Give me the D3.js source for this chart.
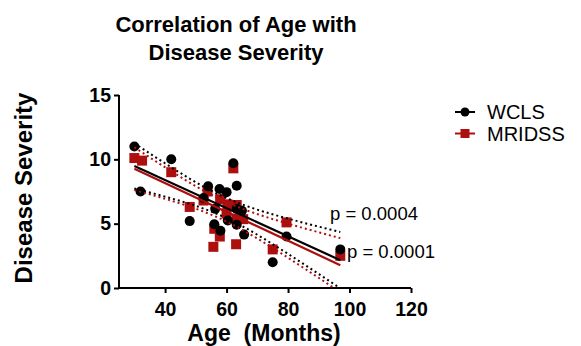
<!DOCTYPE html>
<html><head><meta charset="utf-8">
<script src="https://cdn.jsdelivr.net/npm/d3@7"></script>
<style>body{margin:0;background:#fff}svg{display:block}text{font-family:"Liberation Sans",Arial,sans-serif}</style>
</head><body><svg id="c" width="581" height="346"></svg>
<script>
// ---- data ----
const seriesNames = ["WCLS", "MRIDSS"];
const wclsAge = [30,32,42,48,52.5,54,56.3,56,57.7,58,60,60.4,62.2,63.3,63.3,63.3,65,65.7,79.5,75,97];
const wclsSev = [11,7.5,10,5.2,7,7.9,6.15,4.95,7.7,4.45,7.45,5.25,9.7,7.95,6.15,4.92,6,4.15,4,2,3];
const mridssAge = [30,32.5,42,48,52.5,53.8,57.9,60.3,63.3,60,63.3,65.4,56,57.8,55.7,63.1,62.2,79.5,75,97];
const mridssSev = [10.1,9.9,9,6.3,6.8,7.5,6.9,6.5,6.45,5.78,5.4,5.35,4.6,4.0,3.2,3.4,9.3,5.1,3,2.5];
const pLabels = ["p = 0.0004", "p = 0.0001"];
const xTicks = [40,60,80,100,120];
const yTicks = [0,5,10,15];
const tCrit = [2.093, 2.101]; // t(0.975, n-2)

const colors = ["#000000", "#ad0f0f"];
const svg = d3.select("#c");
const x = d3.scaleLinear().domain([25,120]).range([119,411]);
const y = d3.scaleLinear().domain([0,15]).range([288,95]);

svg.append("defs").append("clipPath").attr("id","clip")
  .append("rect").attr("x",119).attr("y",90).attr("width",300).attr("height",198);

function fit(xs, ys, t){
  const n = xs.length, mx = d3.mean(xs), my = d3.mean(ys);
  let sxx=0, sxy=0;
  xs.forEach((v,i)=>{sxx+=(v-mx)**2; sxy+=(v-mx)*(ys[i]-my);});
  const b = sxy/sxx, a = my - b*mx;
  let sse=0; xs.forEach((v,i)=>{sse+=(ys[i]-(a+b*v))**2;});
  const s = Math.sqrt(sse/(n-2));
  const lo = d3.min(xs), hi = d3.max(xs);
  const grid = d3.range(0,41).map(k=>lo+(hi-lo)*k/40);
  return {a,b,lo,hi,
    upper: grid.map(g=>[g, a+b*g + t*s*Math.sqrt(1/n+(g-mx)**2/sxx)]),
    lower: grid.map(g=>[g, a+b*g - t*s*Math.sqrt(1/n+(g-mx)**2/sxx)])};
}

// axes
const xAxis = svg.append("g").attr("transform","translate(0,288)")
  .call(d3.axisBottom(x).tickValues(xTicks).tickSize(5).tickPadding(9));
const yAxis = svg.append("g").attr("transform","translate(119,0)")
  .call(d3.axisLeft(y).tickValues(yTicks).tickSize(5).tickPadding(3));
[xAxis,yAxis].forEach(g=>{
  g.select(".domain").attr("stroke","#000").attr("stroke-width",2);
  g.selectAll(".tick line").attr("stroke","#000").attr("stroke-width",2);
  g.selectAll(".tick text").attr("fill","#000").style("font-size","19.5px").style("font-weight","bold")
   .style("font-family","'Liberation Sans',Arial,sans-serif");
});
xAxis.select(".domain").attr("d","M119,0H411");
yAxis.select(".domain").attr("d","M0,95V288");

// points: red first, black on top
const sets = [
  {ax: wclsAge, sv: wclsSev},
  {ax: mridssAge, sv: mridssSev}
];
[1,0].forEach(si=>{
  const d = sets[si].ax.map((v,i)=>[v, sets[si].sv[i]]);
  const g = svg.append("g");
  if(si===0){
    g.selectAll("circle").data(d).join("circle")
      .attr("cx",p=>x(p[0])).attr("cy",p=>y(p[1])).attr("r",5).attr("fill",colors[0]);
  } else {
    g.selectAll("rect").data(d).join("rect")
      .attr("x",p=>x(p[0])-5).attr("y",p=>y(p[1])-5).attr("width",10).attr("height",10)
      .attr("fill",colors[1]);
  }
});

// regression lines and confidence bands
const line = d3.line().x(p=>x(p[0])).y(p=>y(p[1])).curve(d3.curveLinear);
const lg = svg.append("g").attr("clip-path","url(#clip)");
[1,0].forEach(si=>{
  const f = fit(sets[si].ax, sets[si].sv, tCrit[si]);
  lg.append("path").attr("d", line([[f.lo,f.a+f.b*f.lo],[f.hi,f.a+f.b*f.hi]]))
    .attr("stroke",colors[si]).attr("stroke-width",2.2).attr("fill","none");
  [f.upper,f.lower].forEach(band=>{
    lg.append("path").attr("d", line(band)).attr("stroke",colors[si])
      .attr("stroke-width",2).attr("stroke-dasharray","2,3").attr("fill","none");
  });
});

// p labels
svg.append("text").attr("x",330).attr("y",220).style("font-size","18.5px").attr("fill","#000").text(pLabels[0]);
svg.append("text").attr("x",347).attr("y",258).style("font-size","18.5px").attr("fill","#000").text(pLabels[1]);

// titles
svg.append("text").attr("x",236).attr("y",32).attr("text-anchor","middle")
  .style("font-size","22px").style("font-weight","bold").text("Correlation of Age with");
svg.append("text").attr("x",236).attr("y",60).attr("text-anchor","middle")
  .style("font-size","22px").style("font-weight","bold").text("Disease Severity");
svg.append("text").attr("transform","translate(32,188) rotate(-90)").attr("text-anchor","middle")
  .style("font-size","24px").style("font-weight","bold").text("Disease Severity");
svg.append("text").attr("x",264).attr("y",341).attr("text-anchor","middle")
  .style("font-size","23px").style("font-weight","bold")
  .text("Age\u00a0\u00a0(Months)");

// legend
seriesNames.forEach((nm,i)=>{
  const ly = 112 + i*21.5;
  const g = svg.append("g");
  g.append("line").attr("x1",455).attr("x2",475).attr("y1",ly).attr("y2",ly)
    .attr("stroke",colors[i]).attr("stroke-width",2);
  if(i===0) g.append("circle").attr("cx",465).attr("cy",ly).attr("r",4.5).attr("fill",colors[i]);
  else g.append("rect").attr("x",460.5).attr("y",ly-4.5).attr("width",9).attr("height",9).attr("fill",colors[i]);
  g.append("text").attr("x",487).attr("y",ly+7).style("font-size",'20px').text(nm);
});
</script></body></html>
